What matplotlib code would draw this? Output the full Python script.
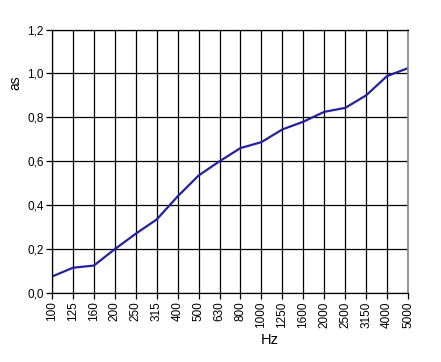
import matplotlib
matplotlib.use("Agg")
import matplotlib.pyplot as plt

categories = ["100", "125", "160", "200", "250", "315", "400", "500", "630", "800",
              "1000", "1250", "1600", "2000", "2500", "3150", "4000", "5000"]
values = [0.075, 0.115, 0.125, 0.20, 0.27, 0.335, 0.44, 0.535, 0.60, 0.66,
          0.687, 0.745, 0.78, 0.825, 0.843, 0.90, 0.988, 1.024]
yticks = [0.0, 0.2, 0.4, 0.6, 0.8, 1.0, 1.2]
ytick_labels = ["0,0", "0,2", "0,4", "0,6", "0,8", "1,0", "1,2"]

plt.rcParams['font.family'] = ['Liberation Sans', 'DejaVu Sans']

W, H = 441, 362
fig = plt.figure(figsize=(W / 100, H / 100), dpi=100)
ax = fig.add_axes([52 / W, 1 - 293 / H, (408 - 52) / W, (293 - 29.5) / H])

x = list(range(len(categories)))
ax.plot(x, values, color='#2222A0', lw=1.6, solid_joinstyle='round')

ax.set_xlim(0, len(categories) - 1)
ax.set_ylim(0, 1.2)
ax.set_xticks(x)
ax.set_xticklabels(categories, rotation=90, fontsize=8.5)
ax.set_yticks(yticks)
ax.set_yticklabels(ytick_labels, fontsize=8.5)
ax.grid(True, color='black', lw=0.9)
ax.set_axisbelow(True)
ax.tick_params(axis='both', direction='out', length=4, width=0.9, color='black', pad=2)

for s in ['left', 'bottom', 'top']:
    ax.spines[s].set_color('black')
    ax.spines[s].set_linewidth(0.9)
ax.spines['right'].set_color('#888888')
ax.spines['right'].set_linewidth(1.2)

fig.text(15 / W, 1 - 83 / H, "as", rotation=90, fontsize=10, ha='center', va='center')
fig.text(270 / W, 1 - 340 / H, "Hz", fontsize=10.5, ha='center', va='center')

fig.savefig("out.png", dpi=100)
